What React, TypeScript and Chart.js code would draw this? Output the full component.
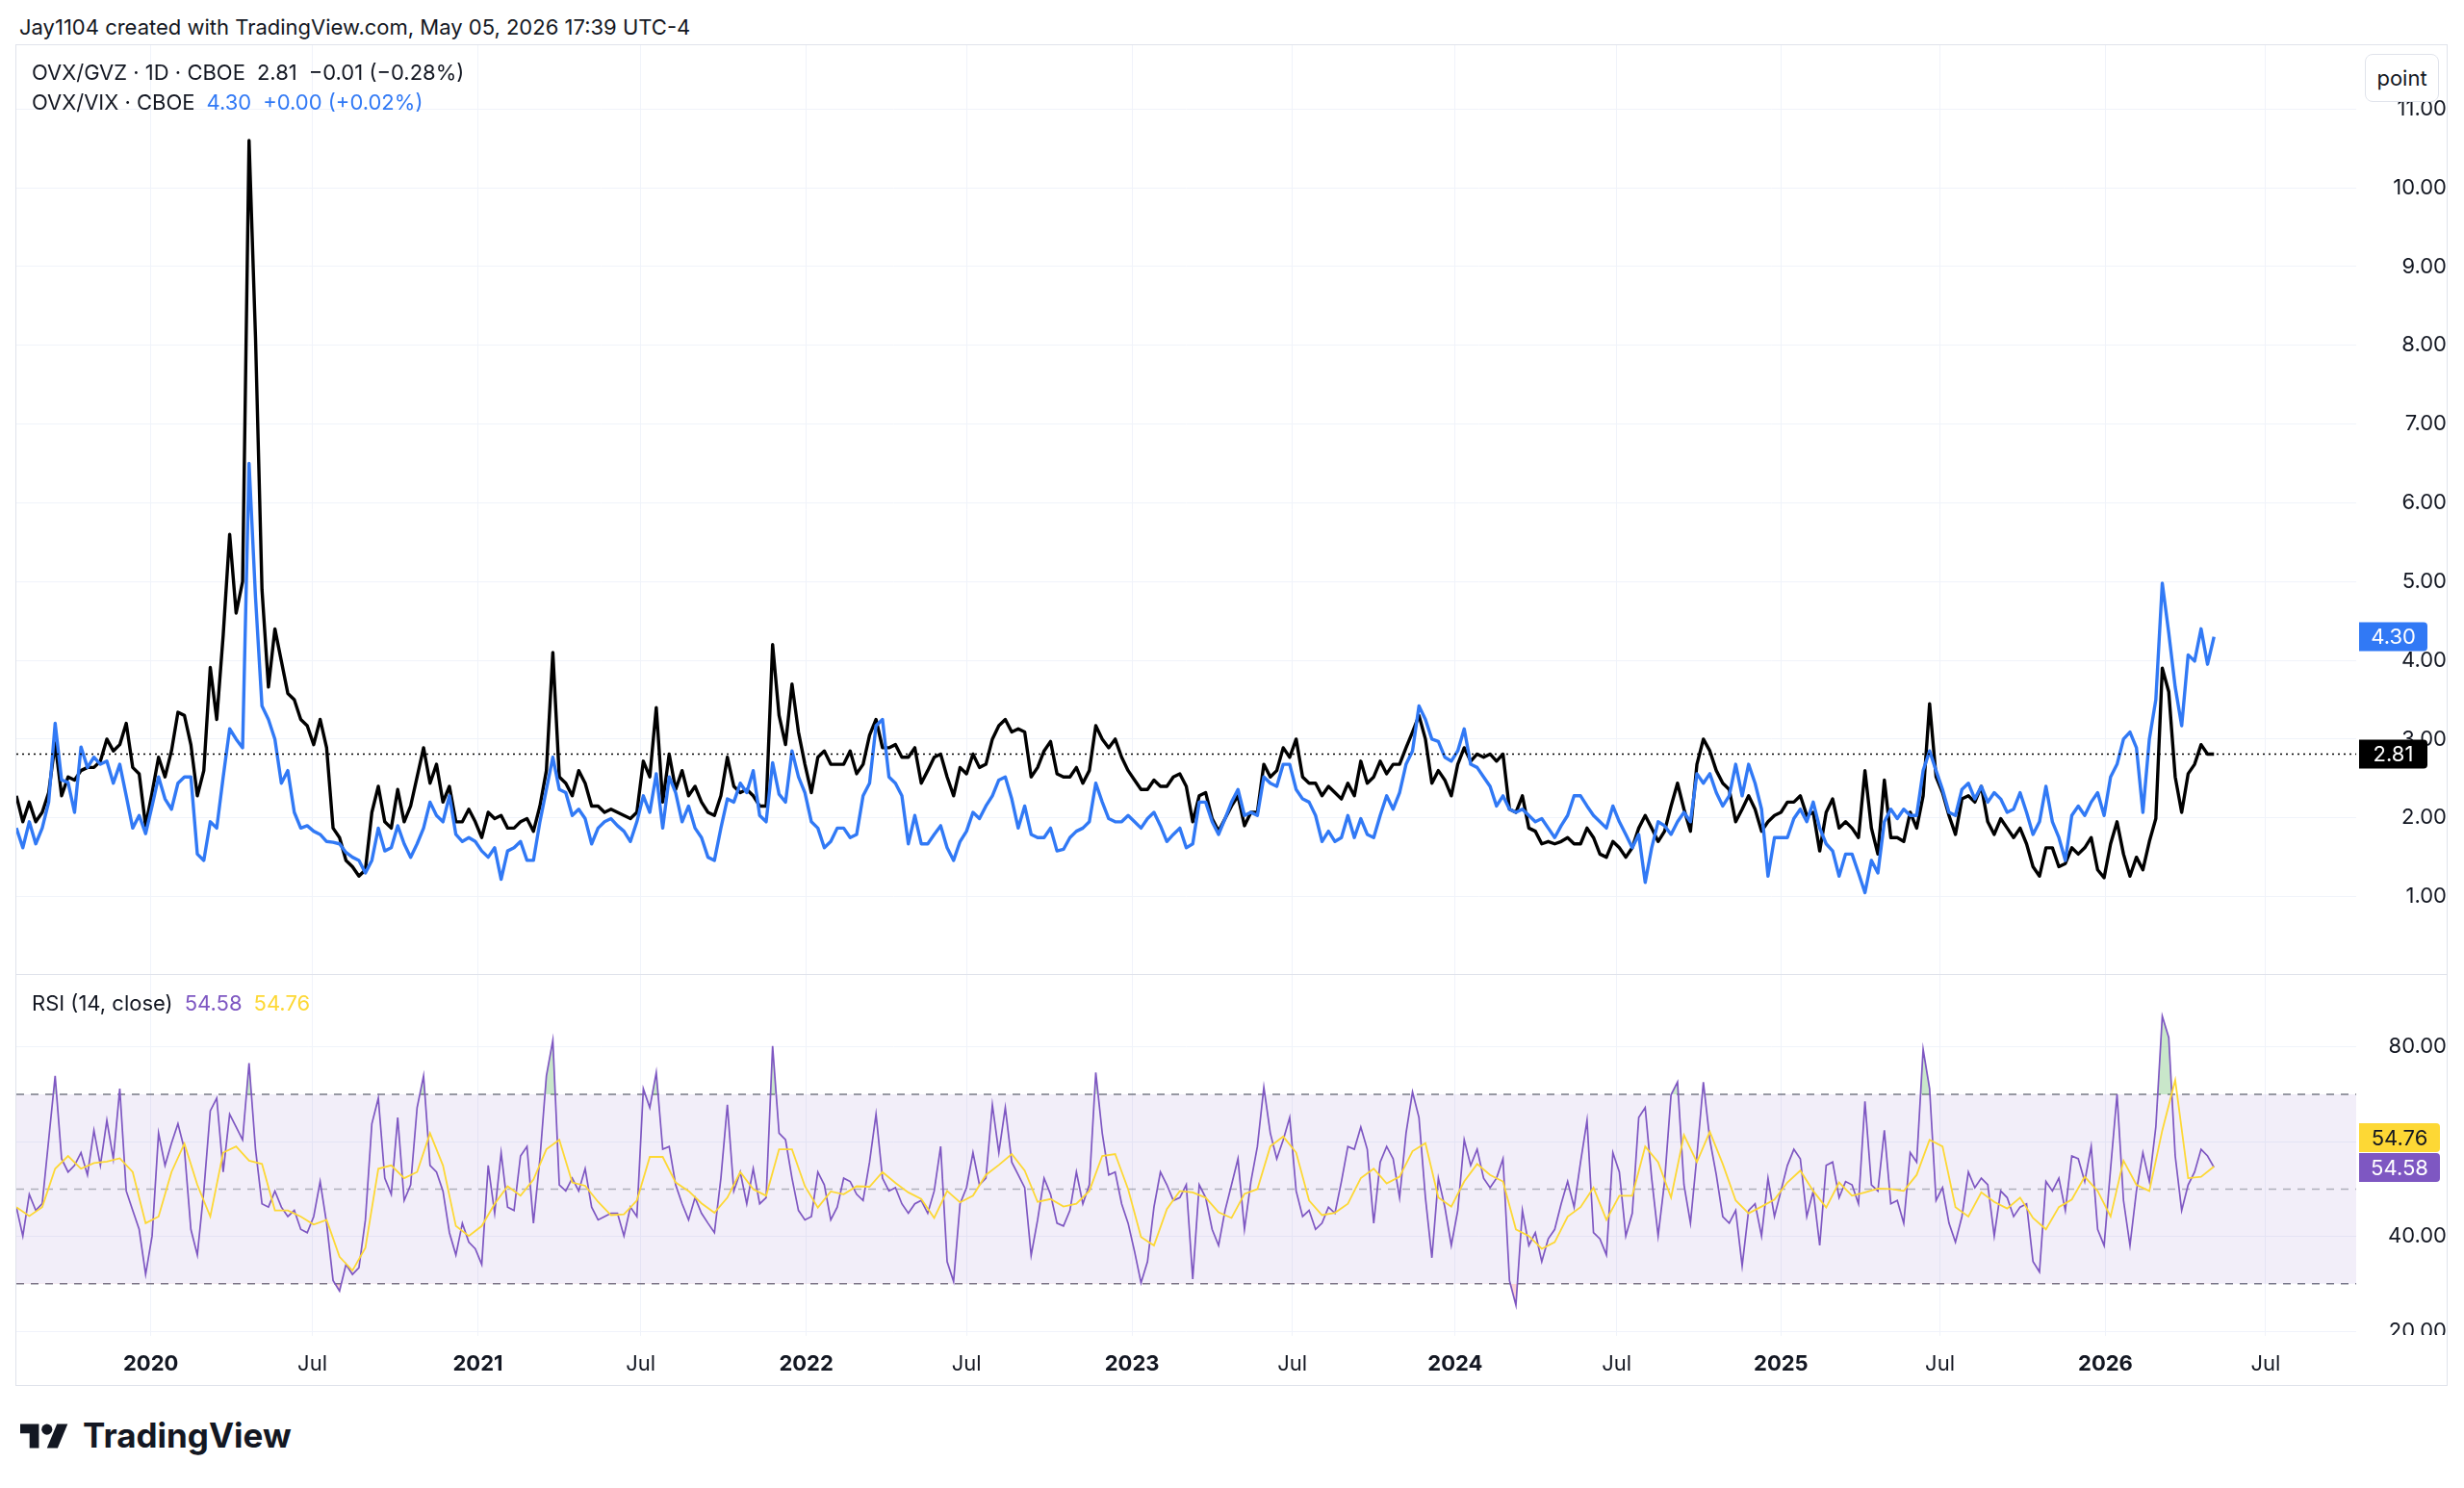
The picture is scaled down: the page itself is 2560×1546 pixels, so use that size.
import React, { useEffect, useRef } from "react";
import { Chart, registerables } from "chart.js";

Chart.register(...registerables);

const FONT = "Inter, 'Noto Sans', 'DejaVu Sans', sans-serif";
const TEXT = "#131722";
const GRID = "#f0f3fa";
const BORDER = "#e0e3eb";
const BLACK = "#000000";
const BLUE = "#3179f5";
const PURPLE = "#7e57c2";
const YELLOW = "#fdd835";

// ---- x axis (trading-day index) ----
const SAMPLE_STEP = 5; // trading days between samples of the main series and RSI
const MA_STEP = 10; // trading days between samples of the RSI-based MA
const X_MAX = 1810;
const tickDays = [104, 229, 357, 483, 611, 735, 863, 987, 1113, 1238, 1365, 1488, 1616, 1740];
const tickLabels = ["2020", "Jul", "2021", "Jul", "2022", "Jul", "2023", "Jul", "2024", "Jul", "2025", "Jul", "2026", "Jul"];

// ---- y axes ----
const MAIN_MIN = 0.017;
const MAIN_MAX = 11.81;
const mainTicks = [1, 2, 3, 4, 5, 6, 7, 8, 9, 10, 11];
const RSI_MIN = 19;
const RSI_MAX = 95.2;
const rsiTicks = [20, 40, 60, 80];
const rsiHiddenLabels = [60];
const RSI_UPPER = 70;
const RSI_MID = 50;
const RSI_LOWER = 30;

// ---- OVX/GVZ (weekly samples) ----
const ovxGvz = [
  2.28, 1.95, 2.2, 1.95, 2.07, 2.32, 2.95, 2.28, 2.52, 2.48,
  2.6, 2.64, 2.64, 2.72, 3.0, 2.85, 2.93, 3.2, 2.64, 2.56,
  1.9, 2.32, 2.77, 2.52, 2.85, 3.34, 3.3, 2.93, 2.28, 2.6,
  3.91, 3.25, 4.32, 5.6, 4.6, 5.0, 10.6, 8.1, 4.9, 3.66,
  4.4, 3.99, 3.58, 3.5, 3.25, 3.17, 2.93, 3.25, 2.89, 1.87,
  1.75, 1.46, 1.38, 1.26, 1.34, 2.07, 2.4, 1.95, 1.87, 2.36,
  1.95, 2.15, 2.52, 2.89, 2.44, 2.68, 2.2, 2.4, 1.95, 1.95,
  2.11, 1.95, 1.75, 2.07, 1.99, 2.03, 1.87, 1.87, 1.95, 1.99,
  1.83, 2.15, 2.6, 4.1, 2.52, 2.44, 2.28, 2.6, 2.44, 2.15,
  2.15, 2.07, 2.11, 2.07, 2.03, 1.99, 2.07, 2.72, 2.52, 3.4,
  2.2, 2.81, 2.36, 2.6, 2.28, 2.4, 2.2, 2.07, 2.03, 2.28,
  2.77, 2.4, 2.32, 2.36, 2.28, 2.15, 2.15, 4.2, 3.3, 2.93,
  3.7, 3.09, 2.68, 2.32, 2.77, 2.85, 2.68, 2.68, 2.68, 2.85,
  2.56, 2.68, 3.05, 3.25, 2.89, 2.89, 2.93, 2.77, 2.77, 2.89,
  2.44, 2.6, 2.77, 2.81, 2.52, 2.28, 2.64, 2.56, 2.81, 2.64,
  2.68, 3.0, 3.17, 3.25, 3.09, 3.13, 3.09, 2.52, 2.64, 2.85,
  2.97, 2.56, 2.52, 2.52, 2.64, 2.44, 2.6, 3.17, 3.0, 2.89,
  3.0, 2.77, 2.6, 2.48, 2.36, 2.36, 2.48, 2.4, 2.4, 2.52,
  2.56, 2.4, 1.95, 2.28, 2.32, 1.99, 1.83, 1.99, 2.15, 2.28,
  1.9, 2.07, 2.07, 2.68, 2.52, 2.6, 2.89, 2.77, 3.0, 2.52,
  2.44, 2.44, 2.28, 2.4, 2.32, 2.24, 2.44, 2.28, 2.72, 2.44,
  2.52, 2.72, 2.56, 2.68, 2.68, 2.89, 3.09, 3.3, 3.0, 2.44,
  2.6, 2.48, 2.28, 2.68, 2.89, 2.72, 2.81, 2.77, 2.81, 2.72,
  2.81, 2.11, 2.07, 2.28, 1.87, 1.83, 1.67, 1.7, 1.67, 1.7,
  1.75, 1.67, 1.67, 1.87, 1.75, 1.54, 1.5, 1.7, 1.62, 1.5,
  1.62, 1.87, 2.03, 1.87, 1.7, 1.83, 2.15, 2.44, 2.11, 1.83,
  2.68, 3.0, 2.85, 2.6, 2.44, 2.36, 1.95, 2.11, 2.28, 2.11,
  1.83, 1.95, 2.03, 2.07, 2.2, 2.2, 2.28, 2.03, 2.07, 1.58,
  2.07, 2.24, 1.87, 1.95, 1.87, 1.75, 2.6, 1.87, 1.54, 2.48,
  1.75, 1.75, 1.7, 2.07, 1.87, 2.28, 3.45, 2.52, 2.32, 2.03,
  1.79, 2.24, 2.28, 2.2, 2.4, 1.95, 1.79, 1.99, 1.87, 1.75,
  1.87, 1.67, 1.38, 1.26, 1.62, 1.62, 1.38, 1.42, 1.62, 1.54,
  1.62, 1.75, 1.34, 1.24, 1.67, 1.95, 1.54, 1.26, 1.5, 1.34,
  1.7, 1.99, 3.9, 3.6, 2.52, 2.07, 2.56, 2.68, 2.93, 2.81,
  2.81,
];

// ---- OVX/VIX (weekly samples) ----
const ovxVix = [
  1.87, 1.62, 1.95, 1.67, 1.87, 2.2, 3.2, 2.48, 2.45, 2.07,
  2.9, 2.64, 2.77, 2.68, 2.72, 2.44, 2.68, 2.28, 1.87, 2.03,
  1.8, 2.15, 2.52, 2.24, 2.11, 2.44, 2.52, 2.52, 1.54, 1.46,
  1.95, 1.87, 2.52, 3.13, 3.0, 2.89, 6.5, 4.8, 3.42, 3.25,
  3.0, 2.44, 2.6, 2.07, 1.87, 1.9, 1.83, 1.79, 1.7, 1.69,
  1.67, 1.56, 1.5, 1.46, 1.3, 1.46, 1.87, 1.58, 1.62, 1.9,
  1.67, 1.5, 1.67, 1.87, 2.2, 2.03, 1.95, 2.28, 1.79, 1.7,
  1.75, 1.7, 1.58, 1.5, 1.62, 1.22, 1.58, 1.62, 1.7, 1.46,
  1.46, 1.95, 2.36, 2.77, 2.36, 2.32, 2.03, 2.11, 1.99, 1.67,
  1.87, 1.95, 1.99, 1.9, 1.83, 1.7, 1.95, 2.28, 2.07, 2.56,
  1.87, 2.52, 2.32, 1.95, 2.15, 1.87, 1.75, 1.5, 1.46, 1.87,
  2.24, 2.2, 2.44, 2.32, 2.6, 2.03, 1.95, 2.7, 2.3, 2.2,
  2.85, 2.52, 2.32, 1.95, 1.87, 1.62, 1.7, 1.87, 1.87, 1.75,
  1.79, 2.28, 2.44, 3.17, 3.25, 2.52, 2.44, 2.28, 1.67, 2.03,
  1.67, 1.67, 1.79, 1.9, 1.62, 1.46, 1.7, 1.83, 2.07, 1.99,
  2.15, 2.28, 2.48, 2.52, 2.24, 1.87, 2.15, 1.79, 1.75, 1.75,
  1.87, 1.58, 1.6, 1.75, 1.83, 1.87, 1.95, 2.44, 2.2, 1.99,
  1.95, 1.95, 2.03, 1.95, 1.87, 1.99, 2.07, 1.9, 1.7, 1.79,
  1.87, 1.62, 1.67, 2.2, 2.2, 1.95, 1.79, 1.99, 2.2, 2.36,
  2.03, 2.07, 2.03, 2.52, 2.44, 2.4, 2.68, 2.68, 2.36, 2.24,
  2.2, 2.03, 1.7, 1.83, 1.7, 1.75, 2.03, 1.75, 1.99, 1.79,
  1.75, 2.03, 2.28, 2.11, 2.32, 2.68, 2.85, 3.42, 3.25, 3.0,
  2.97, 2.77, 2.72, 2.85, 3.13, 2.68, 2.64, 2.52, 2.4, 2.15,
  2.28, 2.11, 2.07, 2.11, 2.03, 1.95, 1.99, 1.87, 1.75, 1.9,
  2.03, 2.28, 2.28, 2.15, 2.03, 1.95, 1.87, 2.15, 1.95, 1.79,
  1.62, 1.79, 1.18, 1.62, 1.95, 1.9, 1.79, 1.95, 2.07, 1.95,
  2.56, 2.44, 2.56, 2.32, 2.15, 2.28, 2.68, 2.28, 2.68, 2.44,
  2.11, 1.26, 1.75, 1.75, 1.75, 1.99, 2.11, 1.95, 2.2, 1.87,
  1.67, 1.58, 1.26, 1.54, 1.54, 1.3, 1.05, 1.46, 1.3, 1.95,
  2.11, 1.99, 2.11, 2.03, 2.03, 2.6, 2.85, 2.6, 2.36, 2.07,
  2.03, 2.36, 2.44, 2.24, 2.4, 2.2, 2.32, 2.24, 2.07, 2.11,
  2.32, 2.07, 1.79, 1.95, 2.4, 1.95, 1.75, 1.46, 2.03, 2.15,
  2.03, 2.2, 2.32, 2.03, 2.52, 2.68, 3.0, 3.09, 2.89, 2.07,
  3.0, 3.5, 4.98, 4.35, 3.66, 3.17, 4.07, 3.99, 4.4, 3.95,
  4.3,
];

// ---- RSI (14, close) (weekly samples) ----
const rsi = [
  46.2, 40.1, 48.9, 45.5, 46.9, 60.4, 73.9, 56.4, 53.6, 55,
  57.7, 53, 62.4, 55, 64.5, 56.4, 71.2, 49.6, 45.5, 41.5,
  32, 40.1, 61.8, 55, 59.7, 63.8, 58.4, 41.5, 36.1, 49.6,
  66.5, 69.2, 53.6, 65.8, 63.1, 60.4, 76.6, 58.4, 46.9, 46.2,
  49.6, 46.2, 44.2, 45.5, 41.5, 40.8, 44.2, 51.6, 42.8, 30.7,
  28.5, 34.1, 32, 33.4, 43.5, 63.8, 69.2, 52.3, 48.9, 65.1,
  47.6, 50.9, 67.2, 73.9, 55, 53.6, 49.6, 40.8, 36.1, 42.8,
  38.8, 37.4, 34.1, 55, 44.9, 57.7, 46.2, 45.5, 57, 59,
  42.8, 56.4, 73.9, 81.4, 50.9, 49.6, 52.3, 49.6, 54.3, 46.2,
  43.5, 44.2, 44.9, 44.9, 40.1, 46.2, 44.2, 71.2, 67.2, 74.6,
  58.4, 59, 50.9, 46.9, 43.5, 48.2, 44.9, 42.8, 40.8, 52.3,
  67.8, 49.6, 53.6, 46.9, 54.3, 46.9, 48.2, 80.2, 61.8, 60.4,
  52.3, 45.5, 43.5, 44.2, 53.6, 50.9, 43.5, 46.2, 52.3, 51.6,
  48.9, 47.6, 55.7, 65.8, 52.3, 49.6, 50.3, 46.9, 44.9, 46.9,
  47.6, 44.9, 49.6, 59, 34.7, 30.5, 46.9, 50.3, 57.7, 50.9,
  52.3, 67.8, 57.7, 67.2, 55.7, 53, 50.3, 36, 43.5, 52.3,
  48.9, 42.8, 42.2, 45.5, 53.6, 46.9, 50.9, 74.6, 61.8, 53,
  53.6, 46.9, 42.8, 36.8, 30.2, 34.7, 46.2, 53.6, 50.9, 47.6,
  48.2, 50.9, 31, 50.9, 48.2, 41.5, 38.1, 45.5, 50.9, 56.4,
  41.5, 51.6, 59, 71.5, 61.8, 56.4, 60.4, 65.1, 49.6, 44.2,
  45.5, 41.5, 42.8, 46.2, 44.9, 51.6, 59, 58.4, 63.1, 58.4,
  42.8, 55.7, 59, 56.4, 48.2, 61.8, 70.5, 65.1, 48.2, 35.5,
  52.3, 46.2, 38.1, 45.5, 60.4, 55, 58.4, 52.3, 50.3, 52.3,
  56.4, 30.7, 25.5, 45.5, 38.1, 40.8, 34.7, 39.5, 41.5, 46.9,
  51.6, 46.2, 55.7, 64.5, 40.8, 39.5, 36.1, 57.7, 53.6, 40.1,
  44.9, 65.1, 67.2, 52.3, 40.1, 51.6, 69.9, 72.6, 50.9, 42.8,
  57, 72.6, 60.4, 53, 44.2, 42.8, 45.5, 33.8, 45.5, 46.9,
  40.1, 52.3, 44.2, 49.6, 55, 58.4, 56.4, 44.2, 49.6, 38.1,
  55, 55.7, 48.2, 51.6, 50.9, 46.9, 68.5, 50.9, 49.6, 62.4,
  46.9, 47.6, 42.8, 57.7, 55.7, 79.5, 71.2, 47.6, 50.3, 42.8,
  38.8, 44.2, 53.6, 50.3, 52.3, 50.9, 40.1, 49.6, 48.2, 44.2,
  46.2, 46.9, 34.7, 32.5, 51.6, 49.6, 52.3, 45.5, 57, 56.4,
  51.6, 59, 41.5, 38.1, 54.3, 70, 47.6, 38.1, 49.6, 57.7,
  51.6, 63.1, 86.5, 82, 57, 45.5, 50.9, 53.6, 58.4, 57,
  54.58,
];

// ---- RSI-based MA (samples every two weeks) ----
const rsiMa = [
  46.2, 44.3, 46.2, 54.3, 57, 54.3, 55.5, 55.8, 56.5, 53.6,
  42.8, 44.2, 53.6, 59.6, 50.9, 44.2, 57.7, 59, 56, 55.3,
  45.5, 45.5, 44.2, 42.5, 43.5, 35.7, 32.8, 37.6, 54.3, 55,
  52.3, 53.6, 61.8, 55, 42.2, 40.1, 42.2, 46.9, 50.6, 48.6,
  52, 58.4, 60.4, 51.4, 50.7, 47.3, 44.5, 44.7, 47.6, 56.8,
  56.8, 51.4, 49.6, 47, 45, 48.2, 53.6, 50, 48.6, 58.4,
  58.4, 50.6, 46.1, 49.5, 48.9, 50.6, 50.5, 53.6, 51.3, 49.3,
  47.9, 43.9, 49.6, 47.2, 48.6, 53, 55.1, 57.4, 53.9, 47.3,
  47.9, 46.3, 46.9, 49.6, 57, 57.4, 50, 39.9, 38.1, 45.8,
  49.6, 49.3, 48.2, 45.1, 43.9, 49, 50, 59, 61.1, 57.7,
  47.6, 44.5, 45, 46.9, 52.3, 54.3, 51.2, 52.6, 58, 59.7,
  48.2, 46.3, 51.6, 55.3, 53, 51.6, 41.5, 40.1, 37.4, 38.8,
  44.2, 46.2, 50.3, 43.5, 48.6, 48.6, 59, 55.7, 48.2, 61.4,
  55.7, 62.1, 55.3, 47.6, 44.9, 46.3, 47.8, 51.4, 53.9, 49.6,
  46.1, 51.4, 48.6, 49.3, 50.1, 50, 49.6, 53, 60.4, 59,
  46.2, 44.2, 49.3, 47.3, 45.9, 48.2, 43.9, 41.5, 46.2, 47.8,
  52.6, 49.6, 44.2, 56, 50.9, 49.6, 62.4, 73, 52.3, 52.6,
  54.76,
];

const lastOf = (a: number[]) => a[a.length - 1];
const toPoints = (arr: number[], step: number) => arr.map((y, i) => ({ x: i * step, y }));
const hline = (y: number) => [
  { x: 0, y },
  { x: X_MAX, y },
];
const labelFor = (v: number) => {
  const i = tickDays.indexOf(v);
  return i >= 0 ? tickLabels[i] : "";
};

const AXIS_W = 94;

const xScale = (showLabels: boolean): any => ({
  type: "linear",
  min: 0,
  max: X_MAX,
  afterBuildTicks: (s: any) => {
    s.ticks = tickDays.map((v) => ({ value: v }));
  },
  afterFit: (s: any) => {
    s.height = showLabels ? 51 : 0;
    s.paddingLeft = 0;
    s.paddingRight = 0;
  },
  grid: { color: GRID, drawTicks: false, lineWidth: 1 },
  border: { display: false },
  ticks: {
    display: showLabels,
    autoSkip: false,
    maxRotation: 0,
    padding: 16,
    color: TEXT,
    font: (c: any) => ({
      family: FONT,
      size: 22,
      weight: /^\d{4}$/.test(labelFor(c.tick ? c.tick.value : -1)) ? "bold" : "normal",
    }),
    callback: (v: any) => labelFor(Number(v)),
  },
});

const yScale = (min: number, max: number, ticks: number[], hidden: number[]): any => ({
  position: "right",
  min,
  max,
  afterBuildTicks: (s: any) => {
    s.ticks = ticks.map((v) => ({ value: v }));
  },
  afterFit: (s: any) => {
    s.width = AXIS_W;
    s.paddingTop = 0;
    s.paddingBottom = 0;
  },
  grid: { color: GRID, drawTicks: false, lineWidth: 1 },
  border: { display: false },
  ticks: {
    crossAlign: "far",
    padding: 19,
    color: TEXT,
    font: { family: FONT, size: 22 },
    callback: (v: any) => (hidden.includes(Number(v)) ? "" : Number(v).toFixed(2)),
  },
});

type Tag = { value: number; text: string; bg: string; fg: string; width: number; shift: number };

const tagPlugin = (id: string, tags: Tag[]) => ({
  id,
  afterDraw(chart: any) {
    const ctx = chart.ctx as CanvasRenderingContext2D;
    const ys = chart.scales.y;
    const h = 30;
    tags.forEach((t) => {
      const yc = ys.getPixelForValue(t.value) + t.shift;
      const x = ys.left + 3;
      ctx.save();
      ctx.fillStyle = t.bg;
      ctx.beginPath();
      (ctx as any).roundRect(x, yc - h / 2, t.width, h, [0, 4, 4, 0]);
      ctx.fill();
      ctx.fillStyle = t.fg;
      ctx.font = `22px ${FONT}`;
      ctx.textAlign = "center";
      ctx.textBaseline = "middle";
      ctx.fillText(t.text, x + t.width / 2, yc + 1);
      ctx.restore();
    });
  },
});

const MAIN_H = 965;
const RSI_H = 426;
const CANVAS_W = 2525;

export default function App() {
  const mainRef = useRef<HTMLCanvasElement | null>(null);
  const rsiRef = useRef<HTMLCanvasElement | null>(null);

  useEffect(() => {
    if (!mainRef.current || !rsiRef.current) return;
    const gvzLast = lastOf(ovxGvz);
    const vixLast = lastOf(ovxVix);
    const rsiLast = lastOf(rsi);
    const maLast = lastOf(rsiMa);

    const common: any = {
      responsive: false,
      maintainAspectRatio: false,
      animation: false,
      devicePixelRatio: 1,
      events: [],
      layout: { padding: 0, autoPadding: false },
      plugins: { legend: { display: false }, tooltip: { enabled: false } },
      elements: { point: { radius: 0 }, line: { tension: 0 } },
    };

    const mainChart = new Chart(mainRef.current, {
      type: "line",
      data: {
        datasets: [
          {
            label: "last",
            data: hline(gvzLast),
            borderColor: BLACK,
            borderWidth: 1.5,
            borderDash: [2, 4],
            pointRadius: 0,
          },
          {
            label: "OVX/VIX",
            data: toPoints(ovxVix, SAMPLE_STEP),
            borderColor: BLUE,
            borderWidth: 3.4,
            pointRadius: 0,
            borderJoinStyle: "round",
          },
          {
            label: "OVX/GVZ",
            data: toPoints(ovxGvz, SAMPLE_STEP),
            borderColor: BLACK,
            borderWidth: 3.4,
            pointRadius: 0,
            borderJoinStyle: "round",
          },
        ],
      } as any,
      options: {
        ...common,
        scales: {
          x: xScale(false),
          y: yScale(MAIN_MIN, MAIN_MAX, mainTicks, []),
        },
      },
      plugins: [
        tagPlugin("mainTags", [
          { value: vixLast, text: vixLast.toFixed(2), bg: BLUE, fg: "#ffffff", width: 71, shift: 0 },
          { value: gvzLast, text: gvzLast.toFixed(2), bg: BLACK, fg: "#ffffff", width: 71, shift: 0 },
        ]),
      ],
    });

    const rsiChart = new Chart(rsiRef.current, {
      type: "line",
      data: {
        datasets: [
          {
            label: "RSI MA",
            data: toPoints(rsiMa, MA_STEP),
            borderColor: YELLOW,
            borderWidth: 1.8,
            pointRadius: 0,
          },
          {
            label: "RSI",
            data: toPoints(rsi, SAMPLE_STEP),
            borderColor: PURPLE,
            borderWidth: 1.7,
            pointRadius: 0,
            fill: { target: { value: RSI_UPPER }, above: "rgba(76,175,80,0.30)", below: "rgba(0,0,0,0)" },
          },
          {
            label: "RSI oversold",
            data: toPoints(rsi, SAMPLE_STEP),
            borderColor: "rgba(0,0,0,0)",
            borderWidth: 0,
            pointRadius: 0,
            fill: { target: { value: RSI_LOWER }, above: "rgba(0,0,0,0)", below: "rgba(242,54,69,0.22)" },
          },
          {
            label: "middle",
            data: hline(RSI_MID),
            borderColor: "rgba(120,123,134,0.55)",
            borderWidth: 1.5,
            borderDash: [8, 7],
            pointRadius: 0,
          },
          {
            label: "upper",
            data: hline(RSI_UPPER),
            borderColor: "#787b86",
            borderWidth: 1.5,
            borderDash: [8, 7],
            pointRadius: 0,
            fill: 5,
            backgroundColor: "rgba(126,87,194,0.10)",
          },
          {
            label: "lower",
            data: hline(RSI_LOWER),
            borderColor: "#787b86",
            borderWidth: 1.5,
            borderDash: [8, 7],
            pointRadius: 0,
          },
        ],
      } as any,
      options: {
        ...common,
        scales: {
          x: xScale(true),
          y: yScale(RSI_MIN, RSI_MAX, rsiTicks, rsiHiddenLabels),
        },
      },
      plugins: [
        tagPlugin("rsiTags", [
          { value: rsiLast, text: maLast.toFixed(2), bg: YELLOW, fg: TEXT, width: 84, shift: -31 },
          { value: rsiLast, text: rsiLast.toFixed(2), bg: PURPLE, fg: "#ffffff", width: 84, shift: 0 },
        ]),
      ],
    });

    return () => {
      mainChart.destroy();
      rsiChart.destroy();
    };
  }, []);

  const txt: React.CSSProperties = {
    position: "absolute",
    fontFamily: FONT,
    fontSize: 22,
    lineHeight: "22px",
    color: TEXT,
    whiteSpace: "pre",
  };

  return (
    <div
      style={{
        position: "absolute",
        left: 0,
        top: 0,
        width: 2560,
        height: 1546,
        background: "#ffffff",
        overflow: "hidden",
        fontFamily: FONT,
      }}
    >
      <div style={{ ...txt, left: 20, top: 17 }}>Jay1104 created with TradingView.com, May 05, 2026 17:39 UTC-4</div>

      <div
        style={{
          position: "absolute",
          left: 16,
          top: 46,
          width: 2527,
          height: 1394,
          boxSizing: "border-box",
          border: `1px solid ${BORDER}`,
        }}
      />
      <canvas
        ref={mainRef}
        width={CANVAS_W}
        height={MAIN_H}
        style={{ position: "absolute", left: 17, top: 47, width: CANVAS_W, height: MAIN_H }}
      />
      <div style={{ position: "absolute", left: 17, top: 1012, width: CANVAS_W, height: 1, background: BORDER }} />
      <canvas
        ref={rsiRef}
        width={CANVAS_W}
        height={RSI_H}
        style={{ position: "absolute", left: 17, top: 1013, width: CANVAS_W, height: RSI_H }}
      />
      {/* axis area below the RSI pane (clips the bottom axis label like the reference) */}
      <div style={{ position: "absolute", left: 2448, top: 1387, width: 93, height: 51, background: "#ffffff" }} />

      <div style={{ ...txt, left: 33, top: 64 }}>
        OVX/GVZ · 1D · CBOE<span style={{ marginLeft: 12 }}>2.81</span>
        <span style={{ marginLeft: 12 }}>−0.01 (−0.28%)</span>
      </div>
      <div style={{ ...txt, left: 33, top: 95 }}>
        OVX/VIX · CBOE<span style={{ marginLeft: 12, color: BLUE }}>4.30</span>
        <span style={{ marginLeft: 12, color: BLUE }}>+0.00 (+0.02%)</span>
      </div>
      <div style={{ ...txt, left: 33, top: 1031 }}>
        RSI (14, close)<span style={{ marginLeft: 12, color: PURPLE }}>54.58</span>
        <span style={{ marginLeft: 12, color: YELLOW }}>54.76</span>
      </div>

      <div
        style={{
          position: "absolute",
          left: 2457,
          top: 56,
          width: 77,
          height: 50,
          boxSizing: "border-box",
          border: `1px solid ${BORDER}`,
          borderRadius: 8,
          background: "#ffffff",
          display: "flex",
          alignItems: "center",
          justifyContent: "center",
          fontFamily: FONT,
          fontSize: 22,
          color: TEXT,
        }}
      >
        point
      </div>

      <svg
        width={50}
        height={39}
        viewBox="0 0 36 28"
        style={{ position: "absolute", left: 21, top: 1474 }}
      >
        <path d="M14 22H7V11H0V4h14v18zM28 22h-8l7.5-18h8L28 22z" fill={TEXT} />
        <circle cx={20} cy={8} r={4} fill={TEXT} />
      </svg>
      <div
        style={{
          position: "absolute",
          left: 86,
          top: 1472,
          fontFamily: FONT,
          fontSize: 35,
          lineHeight: "38px",
          fontWeight: 700,
          letterSpacing: 0,
          color: TEXT,
        }}
      >
        TradingView
      </div>
    </div>
  );
}
